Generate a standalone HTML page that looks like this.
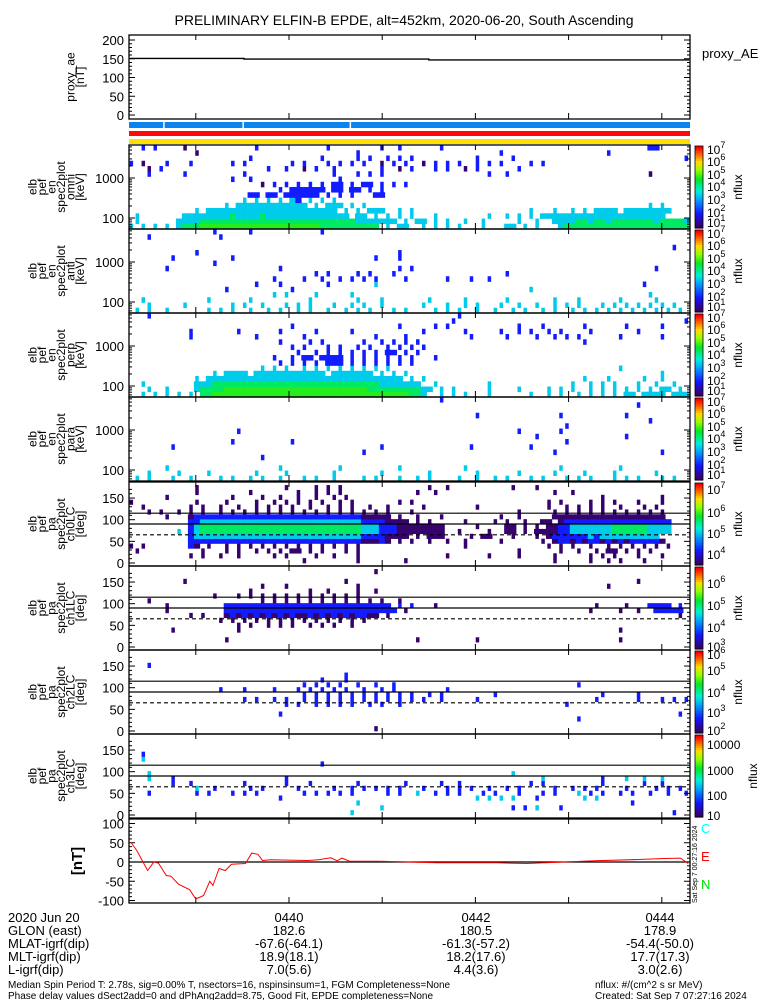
<!DOCTYPE html>
<html><head><meta charset="utf-8"><style>
html,body{margin:0;padding:0;background:#fff}
svg{display:block;font-family:"Liberation Sans",sans-serif}
</style></head><body>
<svg id="chart" width="775" height="1000" viewBox="0 0 775 1000" xmlns="http://www.w3.org/2000/svg">
<rect x="0" y="0" width="775" height="1000" fill="#fff"/>
<text x="404" y="25" font-size="14" text-anchor="middle">PRELIMINARY ELFIN-B EPDE, alt=452km, 2020-06-20, South Ascending</text>
<g id="plots"></g>
<g font-size="13">
<text x="8" y="922">2020 Jun 20</text>
<text x="8" y="935">GLON (east)</text>
<text x="8" y="948">MLAT-igrf(dip)</text>
<text x="8" y="961">MLT-igrf(dip)</text>
<text x="8" y="974">L-igrf(dip)</text>
<g text-anchor="middle">
<text x="289" y="922">0440</text><text x="289" y="935">182.6</text><text x="289" y="948">-67.6(-64.1)</text><text x="289" y="961">18.9(18.1)</text><text x="289" y="974">7.0(5.6)</text>
<text x="476" y="922">0442</text><text x="476" y="935">180.5</text><text x="476" y="948">-61.3(-57.2)</text><text x="476" y="961">18.2(17.6)</text><text x="476" y="974">4.4(3.6)</text>
<text x="660" y="922">0444</text><text x="660" y="935">178.9</text><text x="660" y="948">-54.4(-50.0)</text><text x="660" y="961">17.7(17.3)</text><text x="660" y="974">3.0(2.6)</text>
</g>
<text x="8" y="988" font-size="10">Median Spin Period T: 2.78s, sig=0.00% T, nsectors=16, nspinsinsum=1, FGM Completeness=None</text>
<text x="8" y="999" font-size="10">Phase delay values dSect2add=0 and dPhAng2add=8.75, Good Fit, EPDE completeness=None</text>
<text x="595" y="988" font-size="10">nflux: #/(cm^2 s sr MeV)</text>
<text x="595" y="999" font-size="10">Created: Sat Sep  7 07:27:16 2024</text>
</g>
</svg>
<script>
// ---------- data ----------
const proxyTimes = [-103, -29, -29, 90, 90, 258];
const proxyValues = [151, 151, 149, 149, 147, 147];
const magTimes = [-102,-98,-91,-87,-84,-79,-76,-71,-64,-60,-55,-51,-49,-45,-41,-37,-28,-24,-20,-17,-12,12,19,27,31,34,39,57,95,133,153,165,197,229,242,252,257];
const magValues = [52,30,-22,0,-3,-35,-37,-58,-72,-96,-87,-50,-61,-17,-22,-6,-4,23,20,4,6,4,6,11,3,10,2,2,-2,-2,-4,-2,3,7,9,10,-4];
const energyEdges = [53,72,97,131,178,240,325,440,595,805,1089,1473,1993,2697,3649,4937,6680];
const paEdges = [0,11.25,22.5,33.75,45,56.25,67.5,78.75,90,101.25,112.5,123.75,135,146.25,157.5,168.75,180];
const xTickTimes = [-60,0,60,120,180,240];
const blueGapTimes = [-81,-30,39];
const specOmni = [
"3.3.3.3.3444555555555555555555554444444444.3.33..3.3.3.3...3...33.3.3...34444444444444444444444",
".3......3333444444444444444444444444443333333.3.33.3.3..3..3.....3..3..33334434434444444344443",
".3.......3333333343333433333333333333.33.3.3.3.3...3........3..3.3.3.333333333333333333333",
"...........3.3333333333333333333333.3.3.333..3.3...................3...3..3.3.3333.33333333",
"................3.333333333333.3.333.3.3...............................................3.3",
"...................3.3.3.3.32.3.3.3.......",
"....................22.22.222222.2.2.2...22",
".........................2.222222.22.22.2.2",
"......................1.2.2.2.2.2.22.2.22.2.2.2",
".................2..2..............2......",
"...2.....2.........2..............2...2.2.2.................2..2.......................1",
"...1.2.................2..2..1.2..2.......2..1.2...2.2..1.2......2....",
"2.1...2...2......2.2.......2.2...2.2.2.2..1.2.2..1.2.2.2..2.2.2....2.2.",
"....................2...........2.....2.2..2.2.2..........2.....2............................2",
"...........1..........................2.......................2.................2",
"..2.2....1...........2...........2........2..2......2..................................22..."];
const specAnti = [
".3.3..3......3.3.3..3..3.3..3.3..3..3.3.3...3.3....3.3.3..3..3..3.3..3.3..3.3.3.3.3.3.3.3.3.3",
"...3.....3.......3.3..3...3.3.3...3..3.3..3......3...3..3.3...3..3..3..3.3.3...3.3.3.3.3.3.3..",
"..3..........3......3.........3.......3...3.......3.....3......3.......3...3......3.....3......",
"........................3.3....3.....3.................................................3......",
"................2..........2.......................................3.........................",
".....................2...2.......2.......3............................................2........",
"........................2....2..2..2.2.2.2....2......2...2..2..................................",
"...............................2.2....2.2...2..................2.........................",
"......2..................2...................2.2........................................2......",
"..............2.................................................................................",
".......2.........2.......................2...2....................................................",
"...........2.................................2...............................................",
"...........................................................................................2",
"",
"...2...........2.......................................................................",
"..............2.....2...........2.........................................................."];
const specPerp = [
"..3.3.3.3.3.44555555555555555555555555555555555443..3.3.3...3......3..3.3..3.3.3.3.33.3333.3333",
"...3..3....3444455555555555555555555555544444444433.3.3.....3....3....3.3.3..3.3.3.3.3.3.33.3",
"..3........33344444444444444444444444444443333333..3........3.............3..3.3.3...3..3..3.",
"...........3.333333333333333333333333333333333.3.3..........................3...3.....3..3.",
"..............3.3333.333333333333.3333333.3.3.3..........................................3...",
"......................3.3.3..3.3.3.3.3.3.3.3......................................3.........",
".........................2.2.2.2.222.2.2.2.2.2.2...............................................",
"........................2..2.22.2222.2.2.2.2.2.2...2...........................................",
"............................2..2.2.2.2.2.2.22.2.2..............................................",
"...........................2.2...2.2..2.2..2.2.2.2.......................................",
".........................2....2.2......2..2.2.2.2...........................2..............",
"..........2..........2.......2...........2....2..........2.....2....2..2.2.2......2......2....",
"..........2.......2......2.....2.....2...........2......2.....2..2.2..2.2....2.......2......",
"...........................2.................2.....2.2...........2...2......2......2.....2..",
"......................................................2......................................2.",
"...2...................................................2....................................."];
const specPara = [
".3.3...3..3....3.3..3.3..3...3.3..3....3.3...3..3.3....3..3..3.3...3.3...3.3.3...3.3.3...3.3.",
"...3....3....3.......3....3.......3.......3.......3.......3......3.....3....3....3......3......",
"......3..................3.........3.........3..........3...............3.........3...........",
"",
"......................2.......................................................................",
".......................................2...............................2.................2.......",
".......2..................................2..............2.........2...........................",
".................2.........2.............................................2......................",
"....................................................................2..............2...........",
"..................2..............................................2......2.......................",
".........................................................................2..................",
".......................................................................................2.....",
"..........................................................2.............2..........2.........",
"",
".....................................................................................2.........",
"....................................................2......................................."];
const pa0 = [
".............................1........1.......1........................1.....1..1.1...1......",
"..........1.1..1..1.....1.1....1..1...1..............1......1....1.....1.....1.1.1...1...1.",
".1..........1...1.1..1.1.1.11.1.1...1.1..........................1......1..1..1.11.1.1.1..",
"1.1.......21.1..1.1.1.1.1.1.1.1.1.1.1.1.................1.............1.1.1..1..1.1.1.1.1.1.",
"..........2222222222222222222222222222211121.1.1..1..1..1.....1......1.1221212212121222221.",
"..........2333333333333333333333333333322221111.1.111....1.11...1...1.1222222323333333333.",
"........3.2344444444444444444444444444433322211111111..1....1..11.1.11112233333334444443333",
"..........2344444444444444444444444444433322211111111.....1....11.1.1.112233333334444443333",
"..........2233333333333333333333333333322221111.1.1.....1....1.1..1..11.1222222222222222222",
"......1...1222222222222222222222222222211111.1..1...1.........1..1.....1111111111111111111.",
"...1.1..1.1.1..1.1.1.1.1.1.1.1.1.1.1.1.1.1.1...1.................1.....1.1.1.1.1.1.1.1.1.1",
"..1.......1.1..1..1..1.1.1.1..1..1.1.1..1..1.....1........1...........1..1.1.1.1..1...1.1...",
"1..........1....1....1..1.1.1.1.1..1.1.......1.1......................1.1....1.1.1...1...1.",
"......1..........1....1..1..1..1..1.1..........................................1.........1.",
"...........1........1.......1..1.1.1............1..1...................1..1.................",
"...........1..............1....1.1.1..............1..1..........1...1......................"];
const pa1 = [
"",
"................1...............................1.........1.......................1............",
"",
".......1..........1...............................................................1...........",
"..................1.1..1.1.1..1.1.1..1.......................................................",
"...............1.1.1.1.1.1.1.1.1.1.1.1.1......................................................1",
"..........1.1...12121212121211212121212211.1................................................1.11",
"......1.........22222222222222222222222222222.1..............................1....1..1..22222",
"......1.........2222222222222222222222222222.2.2...1..........................1....1...2222.2",
"...1..................1.1.1.1.1.1.1.1.1.1.1..1..................................................1",
"..............1...1.1.1.1.1.1.1.1.1.1.1........................................................",
"....................1.........1..1....1..1....................................................",
"......................1...1...........1.........................................1..............",
".........1..........................1................................................1..........",
"",
".........................................1..................................................."];
const pa2 = [
".........................................1.......................................................",
"",
"...........................................................................2..................",
".........................2..................................................................2...",
"",
"..........................2.2..2.2.2.2..2.2..2...........................2......................",
"...................2.2..2.2..2.2.2.2.2.2.2.2.2.2.2..2.....2...................2......2...2.2.2.",
".............................2.2.2.2.2.2.2.2.2.2..2.2........2.................2.....2........",
"...............2...2....2...2.2.2.2.2..2..2.2........2..........................................",
".............................2.2.2.2..2..2..2..............................2..................",
"................................2...2..........................................................",
"....................................2............................................................",
"",
"...2..........................................................................................",
"",
""];
const pa3 = [
".....................................3.....................................................2.....",
"..........................................3.....................2.2.3...2...........................",
"......................................3.............................................2..........",
".........................2................................3.3.3.3...2.......3.3.....................",
"...2.......2.2...2.2.2.......2.2.2.2.2.....2.2..3..2.2.2...2.2...2...2.2...3.2.2..2.2..2..2..2..",
"...........3..2.....2.2.....2.....2..2.2.2.2.2...2...2.2.2..2..2.2.....2..2.2.2....2....2.2.2..",
".......2..2........2......2...2.......2.......2.....2..2...........2.2.........2......2..2...",
"...3...2..................2..........................................3.........2...3..3..3......",
"...3............................................................3...............................",
"",
"................................2.....................................................................",
"..3.....................................................................................",
"..2..................................................................................",
"","",""];

// ---------- layout ----------
const X0 = 129, X1 = 690;
const T0 = -103.5, T1 = 257.6;
const NCOL = 94;
function xs(s){ return 289 + s*93.2/60; }
const svg = document.getElementById('chart');
const G = document.getElementById('plots');
const NS = 'http://www.w3.org/2000/svg';
function mk(tag, attrs, parent){ const e=document.createElementNS(NS,tag); for(const k in attrs) e.setAttribute(k,attrs[k]); (parent||G).appendChild(e); return e; }
const stops = [[0,[58,0,90]],[0.17,[20,20,255]],[0.33,[0,150,255]],[0.45,[0,240,220]],[0.6,[0,230,40]],[0.72,[150,255,0]],[0.82,[255,220,0]],[0.9,[255,120,0]],[1,[255,0,0]]];
function cmap(f){ f=Math.max(0,Math.min(1,f)); for(let i=1;i<stops.length;i++){ if(f<=stops[i][0]){ const a=stops[i-1],b=stops[i]; const t=(f-a[0])/(b[0]-a[0]); const c=a[1].map((v,j)=>Math.round(v+(b[1][j]-v)*t)); return 'rgb('+c.join(',')+')'; } } return 'rgb(255,0,0)'; }
const levelF = [0,0.02,0.18,0.4,0.55,0.63,0.8,1];
function levelColor(d){ return cmap(levelF[d]); }

function frame(top,h,name){
  const r = mk('rect',{x:X0,y:top,width:X1-X0,height:h,fill:'none',stroke:'#000','stroke-width':1.3});
  
  
  xTickTimes.forEach(s=>{ const x=xs(s);
    mk('line',{x1:x,x2:x,y1:top+h,y2:top+h-6,stroke:'#000'});
    mk('line',{x1:x,x2:x,y1:top,y2:top+5,stroke:'#000'}); });
}
function yLabel(lines, cy, name){
  const g = mk('g',{});
  
  
  const n=lines.length;
  lines.forEach((t,i)=>{ const x = 84 - (n-1-i)*9.5; const tx=mk('text',{x:x,y:cy,'font-size':12,'text-anchor':'middle',transform:'rotate(-90 '+x+' '+cy+')'},g); tx.textContent=t; });
}
function colorbar(top,h,labels,name,nfluxX){
  const g=mk('g',{});
  
  
  const n=40;
  for(let i=0;i<n;i++){ mk('rect',{x:695,y:top+h*(1-(i+1)/n),width:8,height:h/n+0.6,fill:cmap(i/(n-1))},g); }
  mk('rect',{x:695,y:top,width:8,height:h,fill:'none',stroke:'#000','stroke-width':0.8},g);
  labels.forEach(l=>{ const t=mk('text',{x:707,y:l[1]+5,'font-size':12},g);
    if(l[2]){ t.textContent=l[0]; } else { t.textContent='10'; const sp=mk('tspan',{dy:-6,'font-size':9},t); sp.textContent=l[0]; } });
  const cy=top+h/2, x=nfluxX||742;
  const t=mk('text',{x:x,y:cy,'font-size':12,'text-anchor':'middle',transform:'rotate(-90 '+x+' '+cy+')'},g); t.textContent='nflux';
}
function yTicks(vals, yf, top, h, labelsOn){
  vals.forEach(v=>{ const y=yf(v); mk('line',{x1:X0,x2:X0+6,y1:y,y2:y,stroke:'#000'}); mk('line',{x1:X1,x2:X1-6,y1:y,y2:y,stroke:'#000'});
    if(labelsOn){ const t=mk('text',{x:124,y:y+5,'font-size':13,'text-anchor':'end'}); t.textContent=String(v);} });
}
function minorTicks(yf, vals){ vals.forEach(v=>{ const y=yf(v); mk('line',{x1:X0,x2:X0+3,y1:y,y2:y,stroke:'#000'}); mk('line',{x1:X1,x2:X1-3,y1:y,y2:y,stroke:'#000'}); }); }

function drawGrid(rows, edges, yf, top, h, name, clipName){
  const g=mk('g',{'clip-path':'url(#'+clipName+')'});
  
  
  const dt=(T1-T0)/NCOL;
  rows.forEach((row,r)=>{
    const s=row.padEnd(NCOL,'.').slice(0,NCOL);
    const y1=yf(edges[r]), y2=yf(edges[r+1]);
    for(let c=0;c<NCOL;c++){ const ch=s[c]; if(ch==='.') continue; const d=+ch;
      let xa=xs(T0+c*dt), xb=xs(T0+(c+1)*dt);
      const isolated = (c===0||s[c-1]==='.') && (c===NCOL-1||s[c+1]==='.');
      if(isolated){ const m=(xa+xb)/2; xa=m-1.6; xb=m+1.6; }
      const cell=mk('rect',{x:xa.toFixed(2),y:Math.min(y1,y2).toFixed(2),width:(xb-xa+0.3).toFixed(2),height:(Math.abs(y2-y1)+0.3).toFixed(2),fill:levelColor(d)},g);
      
      
    }
  });
}
const defs=mk('defs',{},svg);

// ---------- proxy AE panel ----------
(function(){
  const top=35,h=84; const yf=v=>115-v*0.375;
  frame(top,h,'proxy-ae');
  yTicks([0,50,100,150,200],yf,top,h,true);
  minorTicks(yf,[10,20,30,40,60,70,80,90,110,120,130,140,160,170,180,190]);
  let d=''; proxyTimes.forEach((t,i)=>{ d+=(i?'L':'M')+xs(Math.max(T0,Math.min(T1,t))).toFixed(1)+','+yf(proxyValues[i]).toFixed(1); });
  const p=mk('path',{d:d,fill:'none',stroke:'#000','stroke-width':1.4});
  
  
  yLabel(['proxy_ae','[nT]'],77,'proxy-ae-y-title');
  const t=mk('text',{x:702,y:58,'font-size':13}); t.textContent='proxy_AE';
  
  
})();
(function(){
  const b=mk('rect',{x:X0,y:122,width:X1-X0,height:6,fill:'#0a84ee'});  
  blueGapTimes.forEach(t=>{ mk('rect',{x:xs(t),y:122,width:1.5,height:6,fill:'#fff'}); });
  const r=mk('rect',{x:X0,y:131,width:X1-X0,height:5,fill:'#ff0a0a'});  
  const yb=mk('rect',{x:X0,y:139,width:X1-X0,height:5,fill:'#ffe000'});  
})();

// ---------- energy spectrograms ----------
const specPanels=[[specOmni,'omni'],[specAnti,'anti'],[specPerp,'perp'],[specPara,'para']];
specPanels.forEach((p,i)=>{
  const top=145+i*84, h=84;
  const yf=E=>top+73-40*Math.log10(E/100);
  const cp=mk('clipPath',{id:'clipE'+i},defs); mk('rect',{x:X0,y:top,width:X1-X0,height:h},cp);
  drawGrid(p[0],energyEdges,yf,top,h,'spectrogram-'+p[1],'clipE'+i);
  frame(top,h,'spectrogram-'+p[1]);
  yTicks([100,1000],yf,top,h,true);
  minorTicks(yf,[60,70,80,90,200,300,400,500,600,700,800,900,2000,3000,4000,5000,6000]);
  yLabel(['elb','pef','en','spec2plot',p[1],'[keV]'],top+42,'spectrogram-'+p[1]+'-y-title');
  colorbar(top+1,h-2,[['7',top+4],['6',top+16],['5',top+29],['4',top+41],['3',top+54],['2',top+67],['1',top+77]],'colorbar-'+p[1]);
});

// ---------- pitch angle panels ----------
const paPanels=[[pa0,'ch0LC',[['7',489],['6',512],['5',533],['4',554]]],[pa1,'ch1LC',[['6',583],['5',605],['4',627],['3',646]]],[pa2,'ch2LC',[['6',654],['5',670],['4',692],['3',712],['2',730]]],[pa3,'ch3LC',[['10000',744,1],['1000',770,1],['100',795,1],['10',815,1]]]];
paPanels.forEach((p,i)=>{
  const top=482+i*84,h=84;
  const yf=v=>top+81-v*0.433;
  const cp=mk('clipPath',{id:'clipP'+i},defs); mk('rect',{x:X0,y:top,width:X1-X0,height:h},cp);
  drawGrid(p[0],paEdges,yf,top,h,'pa-spectrogram-'+p[1],'clipP'+i);
  frame(top,h,'pa-spectrogram-'+p[1]);
  yTicks([0,50,100,150],yf,top,h,true);
  minorTicks(yf,[10,20,30,40,60,70,80,90,110,120,130,140,160,170]);
  [115,90].forEach(v=>mk('line',{x1:X0,x2:X1,y1:yf(v),y2:yf(v),stroke:'#000','stroke-width':1.2}));
  mk('line',{x1:X0,x2:X1,y1:yf(65),y2:yf(65),stroke:'#000','stroke-width':1.1,'stroke-dasharray':'4,3'});
  yLabel(['elb','pef','pa','spec2plot',p[1],'[deg]'],top+42,'pa-'+p[1]+'-y-title');
  colorbar(top+1,h-2,p[2],'colorbar-'+p[1],i===3?757:742);
});

// ---------- mag panel ----------
(function(){
  const top=819,h=84; const yf=v=>862-v*0.385;
  frame(top,h,'mag-panel');
  yTicks([-100,-50,0,50,100],yf,top,h,true);
  minorTicks(yf,[-90,-80,-70,-60,-40,-30,-20,-10,10,20,30,40,60,70,80,90]);
  mk('line',{x1:X0,x2:X1,y1:yf(0),y2:yf(0),stroke:'#000','stroke-width':1.3});
  let d=''; magTimes.forEach((t,i)=>{ d+=(i?'L':'M')+xs(t).toFixed(1)+','+yf(magValues[i]).toFixed(1); });
  const p=mk('path',{d:d,fill:'none',stroke:'#ff0000','stroke-width':1});
  
  
  const lab=mk('text',{x:82,y:861,'font-size':15,'font-weight':'bold','text-anchor':'middle',transform:'rotate(-90 82 861)'}); lab.textContent='[nT]';
  
  
  [['C','#00ffff',833],['E','#ff0000',861],['N','#00dd00',889]].forEach(l=>{ const t=mk('text',{x:701,y:l[2],'font-size':13,fill:l[1]}); t.textContent=l[0];
    
     });
  const st=mk('text',{x:697,y:903,'font-size':7,transform:'rotate(-90 697 903)'}); st.textContent='Sat Sep  7 00:27:16 2024';
})();
</script>
</body></html>
